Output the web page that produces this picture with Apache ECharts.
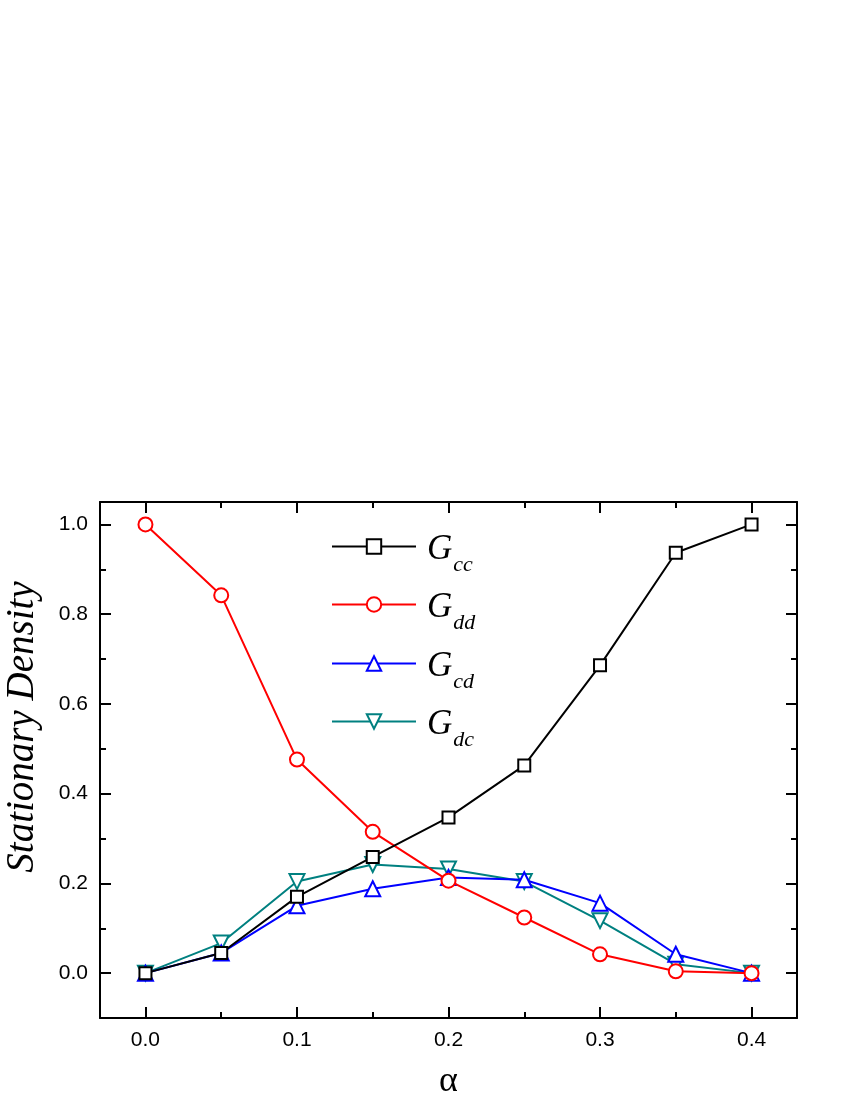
<!DOCTYPE html>
<html>
<head>
<meta charset="utf-8">
<script src="https://cdn.jsdelivr.net/npm/echarts@6/dist/echarts.min.js"></script>
<style>
  html, body { margin: 0; padding: 0; background: #fff; }
  #chart { width: 850px; height: 1100px; }
</style>
</head>
<body>
<div id="chart"></div>
<script>
// data
const alpha = [0.0, 0.05, 0.1, 0.15, 0.2, 0.25, 0.3, 0.35, 0.4]
const gcc = [0.0, 0.045, 0.17, 0.259, 0.347, 0.463, 0.686, 0.937, 1.0]
const gdd = [1.0, 0.842, 0.476, 0.315, 0.206, 0.124, 0.042, 0.004, 0.0]
const gcd = [0.0, 0.045, 0.15, 0.188, 0.213, 0.208, 0.156, 0.042, 0.0]
const gdc = [0.0, 0.067, 0.204, 0.242, 0.232, 0.204, 0.117, 0.02, 0.0]
const seriesNames = ['cc', 'dd', 'cd', 'dc']
const seriesColors = ['#000000', '#ff0000', '#0000ff', '#008080']
const seriesSymbols = ['rect', 'circle', 'triangle', 'path://M0,0 L10,0 L5,9 Z']
const seriesValues = [gcc, gdd, gcd, gdc]

const chart = echarts.init(document.getElementById('chart'))

const pairs = (ys) => alpha.map((x, i) => [x, ys[i]])
const onStep = (v, step) => Math.abs(v / step - Math.round(v / step)) < 1e-6

const frameAxis = {
  axisLine: { show: true, onZero: false, lineStyle: { color: '#000', width: 2 } },
  axisTick: { show: true, inside: true, length: 11, lineStyle: { color: '#000', width: 2 } },
  minorTick: { show: true, splitNumber: 2, length: 6, lineStyle: { color: '#000', width: 2 } },
  splitLine: { show: false }
}

const xBase = { type: 'value', min: -0.03, max: 0.43, splitNumber: 5, ...frameAxis }
const yBase = { type: 'value', min: -0.1, max: 1.05, splitNumber: 5, ...frameAxis }

const legendRows = [546, 604, 663, 721]

const option = {
  animation: false,
  backgroundColor: '#fff',
  grid: { left: 100, right: 53, top: 502, bottom: 82, containLabel: false, outerBoundsMode: 'none' },
  xAxis: [
    {
      ...xBase,
      position: 'bottom',
      name: 'α',
      nameLocation: 'middle',
      nameGap: 46,
      nameTextStyle: { fontFamily: 'Liberation Serif', fontSize: 36, color: '#000' },
      axisLabel: {
        margin: 12,
        fontFamily: 'Liberation Sans',
        fontSize: 21,
        color: '#000',
        formatter: (v) => (onStep(v, 0.1) ? v.toFixed(1) : '')
      }
    },
    { ...xBase, position: 'top', axisLabel: { show: false } }
  ],
  yAxis: [
    {
      ...yBase,
      position: 'left',
      name: 'Stationary Density',
      nameLocation: 'middle',
      nameGap: 58,
      nameTextStyle: {
        fontFamily: 'Liberation Serif',
        fontStyle: 'italic',
        fontSize: 39,
        color: '#000',
        padding: [0, 0, 0, 66]
      },
      axisLabel: {
        margin: 12,
        fontFamily: 'Liberation Sans',
        fontSize: 21,
        color: '#000',
        formatter: (v) => (onStep(v, 0.2) ? v.toFixed(1) : '')
      }
    },
    { ...yBase, position: 'right', axisLabel: { show: false } }
  ],
  legend: seriesNames.map((n, i) => ({
    data: ['G' + n],
    left: 331,
    top: legendRows[i] - 14,
    orient: 'vertical',
    itemWidth: 84,
    itemHeight: 18,
    itemGap: 0,
    padding: 0,
    itemStyle: { borderWidth: 2 },
    formatter: () => '{g|G}{s|' + n + '}',
    textStyle: {
      rich: {
        g: { fontFamily: 'Liberation Serif', fontStyle: 'italic', fontSize: 35, color: '#000', padding: [6, 0, 0, 6] },
        s: { fontFamily: 'Liberation Serif', fontStyle: 'italic', fontSize: 22, color: '#000', padding: [38, 0, 0, 1] }
      }
    }
  })),
  series: seriesNames.map((n, i) => ({
    name: 'G' + n,
    type: 'line',
    data: pairs(seriesValues[i]),
    symbol: seriesSymbols[i],
    symbolSize: i === 0 ? 12 : i === 1 ? 14 : 15,
    showAllSymbol: true,
    color: seriesColors[i],
    lineStyle: { color: seriesColors[i], width: 2 },
    itemStyle: { color: '#fff', borderColor: seriesColors[i], borderWidth: 2 },
    z: 10 - i
  }))
}

chart.setOption(option)
</script>
</body>
</html>
